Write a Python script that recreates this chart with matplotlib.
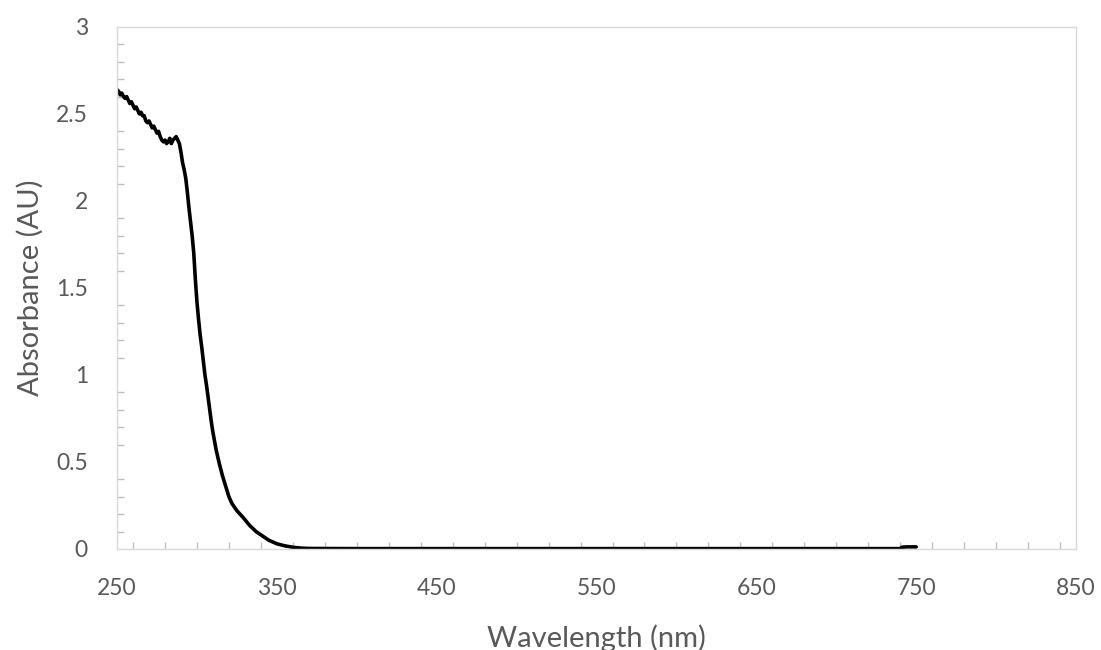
import matplotlib
matplotlib.use("Agg")
import matplotlib.pyplot as plt
from matplotlib.ticker import MultipleLocator

# absorbance spectrum, nm / AU
wavelength = [250, 251, 252, 253, 254, 255, 256, 257, 258, 259, 260, 261, 262, 263,
              264, 265, 266, 267, 268, 269, 270, 271, 272, 273, 274, 275, 276, 277,
              278, 279, 280, 281, 282, 283, 284, 285, 286, 287, 288, 289,
              290, 291, 292, 293, 294, 295,
              296, 297, 298, 299, 300, 301, 302, 303, 304, 305, 306, 307, 308, 309,
              310, 312, 314, 316, 318, 320, 322, 325, 329, 333, 337, 341, 345, 350,
              355, 360, 365, 370, 400, 450, 500, 550, 600, 650, 700, 740, 741, 744, 750]
absorbance = [2.64, 2.63, 2.61, 2.62, 2.60, 2.59, 2.60, 2.58, 2.56, 2.57, 2.55, 2.53,
              2.54, 2.52, 2.50, 2.51, 2.49, 2.49, 2.46, 2.45, 2.46, 2.44, 2.42, 2.43,
              2.41, 2.39, 2.40, 2.37, 2.35, 2.34, 2.35, 2.33, 2.34, 2.36, 2.33, 2.35,
              2.36, 2.37, 2.35, 2.33,
              2.28, 2.22, 2.18, 2.13, 2.05, 1.96,
              1.88, 1.80, 1.70, 1.55, 1.42, 1.32, 1.23, 1.16, 1.08, 1.00, 0.94, 0.87, 0.80, 0.73,
              0.67, 0.57, 0.49, 0.42, 0.36, 0.30, 0.26, 0.22, 0.18, 0.135, 0.10, 0.075, 0.05, 0.03,
              0.018, 0.01, 0.005, 0.003, 0.002, 0.002, 0.002, 0.002, 0.002, 0.002, 0.002, 0.002,
              0.010, 0.012, 0.012]

xticks = [250, 350, 450, 550, 650, 750, 850]
yticks = [0, 0.5, 1, 1.5, 2, 2.5, 3]
ytick_labels = ["0", "0.5", "1", "1.5", "2", "2.5", "3"]

plt.rcParams['font.family'] = ['Lato', 'DejaVu Sans']

fig = plt.figure(figsize=(11.01, 6.5), dpi=100)
ax = fig.add_axes([0.1063, 0.1554, 0.8710, 0.8031])

ax.plot(wavelength, absorbance, color="black", lw=2.6,
        solid_joinstyle="round", solid_capstyle="round")

ax.set_xlim(250, 850)
ax.set_ylim(0, 3)
ax.set_xticks(xticks)
ax.set_yticks(yticks)
ax.set_yticklabels(ytick_labels)
ax.xaxis.set_minor_locator(MultipleLocator(20))
ax.yaxis.set_minor_locator(MultipleLocator(0.1))

grey = "#d9d9d9"
for s in ax.spines.values():
    s.set_color(grey)
    s.set_linewidth(1.0)

ax.tick_params(which="both", direction="in", color="#bfbfbf", width=1.0)
ax.tick_params(which="major", length=0, labelsize=16.5, labelcolor="#595959")
ax.tick_params(which="minor", length=5)
ax.tick_params(axis="x", which="major", pad=21)
ax.tick_params(axis="y", which="major", pad=21)

ax.set_xlabel("Wavelength (nm)", fontsize=21, color="#595959", labelpad=18)
ax.set_ylabel("Absorbance (AU)", fontsize=21, color="#595959", labelpad=9)

fig.savefig("out.png", dpi=100, facecolor="white")
